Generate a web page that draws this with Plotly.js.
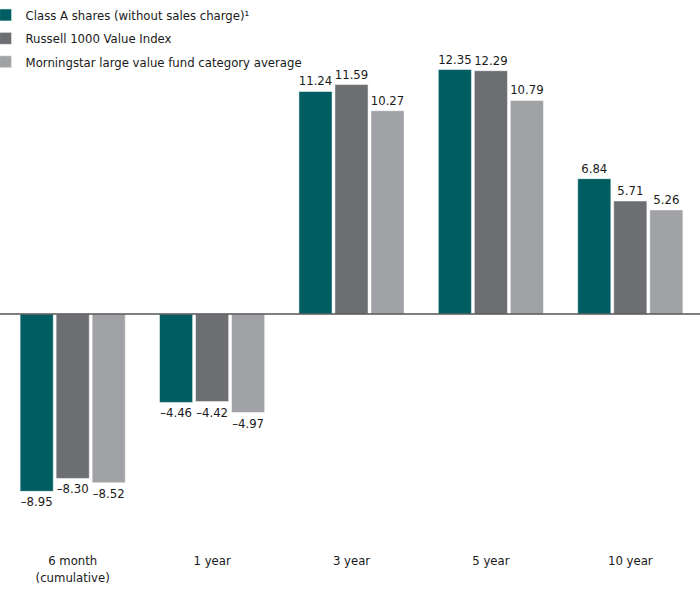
<!DOCTYPE html>
<html>
<head>
<meta charset="utf-8">
<script src="https://cdn.plot.ly/plotly-3.0.1.min.js"></script>
<style>html,body{margin:0;padding:0;background:#fff;}#chart{width:700px;height:589px;}</style>
</head>
<body>
<div id="chart"></div>
<script>
const categories = ["6 month<br>(cumulative)", "1 year", "3 year", "5 year", "10 year"];
const seriesNames = ["Class A shares (without sales charge)¹", "Russell 1000 Value Index", "Morningstar large value fund category average"];
const classA = [-8.95, -4.46, 11.24, 12.35, 6.84];
const russell = [-8.30, -4.42, 11.59, 12.29, 5.71];
const morningstar = [-8.52, -4.97, 10.27, 10.79, 5.26];
const colors = ["#005e62", "#6d6e71", "#a0a2a5"];

// pick a condensed font if installed
function hasFont(name) {
  const c = document.createElement("canvas").getContext("2d");
  const s = "Class A shares (without sales charge) 1234567890";
  c.font = "20px monospace"; const a = c.measureText(s).width;
  c.font = "20px '" + name + "', monospace"; const b = c.measureText(s).width;
  return Math.abs(a - b) > 0.5;
}
let FONT, FS;
if (hasFont("Liberation Sans Narrow")) { FONT = "'Liberation Sans Narrow', sans-serif"; FS = 15; }
else { FONT = "'DejaVu Sans Condensed', sans-serif"; FS = 13; }

const fmt = v => (v < 0 ? "\u2013" : "") + Math.abs(v).toFixed(2);

const data = [classA, russell, morningstar].map((vals, i) => ({
  type: "bar",
  name: seriesNames[i],
  legendgroup: "g" + i,
  x: categories,
  y: vals,
  text: vals.map(fmt),
  textposition: "outside",
  constraintext: "none",
  cliponaxis: false,
  textfont: {family: FONT, size: FS, color: "#1a1a1a"},
  marker: {color: colors[i], line: {color: "rgba(255,255,255,0.5)", width: 1}},
  hoverinfo: "skip"
}));

const layout = {
  width: 700, height: 589,
  margin: {l: 3, r: 0, t: 0, b: 44, autoexpand: false},
  paper_bgcolor: "#fff", plot_bgcolor: "#fff",
  font: {family: FONT, size: FS, color: "#1a1a1a"},
  barmode: "group",
  bargap: 0.225,
  bargroupgap: 0.08,
  showlegend: true,
  legend: {x: -0.025, y: 1.0, xanchor: "left", yanchor: "top", bgcolor: "rgba(0,0,0,0)",
           font: {family: FONT, size: FS, color: "#1a1a1a"}, tracegroupgap: 3.5, itemwidth: 30},
  xaxis: {range: [-0.5, 4.5], autorange: false, automargin: false, showgrid: false, showline: false, zeroline: false, ticks: "",
          ticklabelstandoff: 6, tickfont: {family: FONT, size: FS, color: "#1a1a1a"}},
  yaxis: {range: [-11.66, 15.86], automargin: false, showgrid: false, zeroline: false, showline: false, showticklabels: false, ticks: ""},
  shapes: [{type: "line", xref: "paper", yref: "y", x0: -0.005, x1: 1, y0: 0, y1: 0, line: {color: "#555", width: 1.5}}]
};

Plotly.newPlot("chart", data, layout, {displayModeBar: false, staticPlot: true});
</script>
</body>
</html>
